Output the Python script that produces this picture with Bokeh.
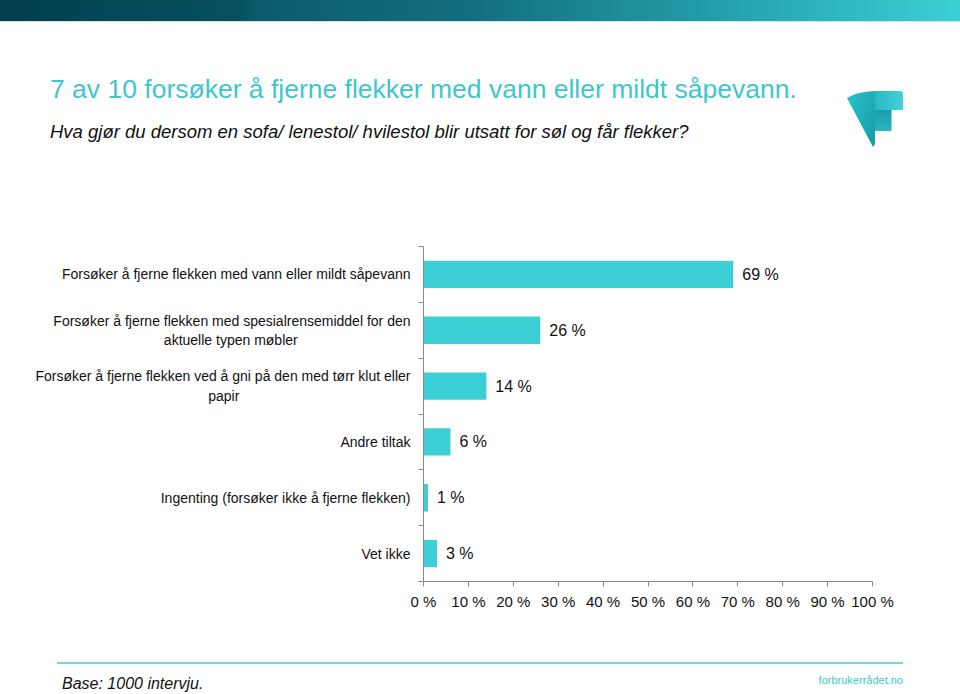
from bokeh.plotting import figure
from bokeh.models import Range1d, LinearAxis, FixedTicker, ColumnDataSource, Div
from bokeh.layouts import column
from bokeh.core.properties import value
from bokeh.embed import file_html
from bokeh.resources import INLINE

# ---------------- data ----------------
categories = [
    "Forsøker å fjerne flekken med vann eller mildt såpevann",
    "Forsøker å fjerne flekken med spesialrensemiddel for den\naktuelle typen møbler",
    "Forsøker å fjerne flekken ved å gni på den med tørr klut eller\npapir",
    "Andre tiltak",
    "Ingenting (forsøker ikke å fjerne flekken)",
    "Vet ikke",
]
values = [69, 26, 14, 6, 1, 3]
x_ticks = [0, 10, 20, 30, 40, 50, 60, 70, 80, 90, 100]
x_tick_labels = ["0 %", "10 %", "20 %", "30 %", "40 %", "50 %",
                 "60 %", "70 %", "80 %", "90 %", "100 %"]
title_text = "7 av 10 forsøker å fjerne flekker med vann eller mildt såpevann."
subtitle_text = "Hva gjør du dersom en sofa/ lenestol/ hvilestol blir utsatt for søl og får flekker?"
base_text = "Base: 1000 intervju."
source_text = "forbrukerrådet.no"

# ---------------- style ----------------
FONT = "Liberation Sans"
BAR = "#3ccfd6"
TEAL_TEXT = "#3ec6ce"
AXIS = "#8a8a8a"
TXT = "#111111"
W = 960
TOP_H = 240
FIG_H = 420
FOOT_H = 34
# no-break-space padding that visually centres the second line of a wrapped label
SECOND_LINE_PAD = {1: 29, 2: 44}

n = len(categories)
ypos = [n - i - 0.5 for i in range(n)]
labels = [f"{v} %" for v in values]


def axis_label(i, cat):
    parts = cat.split("\n")
    if len(parts) > 1:
        parts[1] = parts[1] + "\u00a0" * SECOND_LINE_PAD.get(i, 0)
    return "\n".join(parts)


# ---------------- header ----------------
logo_svg = (
    '<svg width="70" height="70" viewBox="840 85 70 70" '
    'style="position:absolute;left:840px;top:85px" xmlns="http://www.w3.org/2000/svg">'
    '<defs><linearGradient id="gw" x1="0" y1="0" x2="1" y2="1">'
    '<stop offset="0" stop-color="#2cc2cb"/><stop offset="1" stop-color="#139aa7"/></linearGradient>'
    '<linearGradient id="gt" x1="0" y1="0" x2="1" y2="0">'
    '<stop offset="0" stop-color="#2ab9c3"/><stop offset="1" stop-color="#45d2d9"/></linearGradient>'
    '<linearGradient id="gs" x1="0" y1="0" x2="0" y2="1">'
    '<stop offset="0" stop-color="#1a9eab"/><stop offset="1" stop-color="#2bb6c0"/></linearGradient></defs>'
    '<path d="M847 98 Q856 92 875 91 L875 144 L873 147 Z" fill="url(#gw)"/>'
    '<path d="M875 91 L900 91 Q903 91 903 94 L903 110 L875 110 Z" fill="url(#gt)"/>'
    '<path d="M875 110 L891.5 110 L891.5 131 L875 131 Z" fill="url(#gs)"/>'
    '</svg>'
)
header_html = (
    f'<div style="position:relative;width:{W}px;height:{TOP_H}px;overflow:hidden;'
    f'font-family:\'{FONT}\';">'
    '<div style="position:absolute;left:0;top:0;width:100%;height:21px;'
    'background:linear-gradient(to right,#023f4e 0px,#06505f 240px,#0b5a6b 255px,'
    '#137080 480px,#22a0aa 720px,#3ccfd6 960px);"></div>'
    '<div style="position:absolute;left:0;top:21px;width:100%;height:1px;background:#d8e4e4;"></div>'
    f'<div style="position:absolute;left:50px;top:75.6px;font-size:26.5px;line-height:26.5px;'
    f'color:{TEAL_TEXT};white-space:nowrap;">{title_text}</div>'
    f'<div style="position:absolute;left:50px;top:123.3px;font-size:18.5px;line-height:18.5px;'
    f'font-style:italic;color:{TXT};white-space:nowrap;">{subtitle_text}</div>'
    f'{logo_svg}</div>'
)
header = Div(text=header_html, width=W, height=TOP_H, margin=(0, 0, 0, 0))

# ---------------- chart ----------------
p = figure(width=W, height=FIG_H, output_backend="svg", toolbar_location=None,
           x_range=Range1d(0, 100), y_range=Range1d(0, n),
           x_axis_location=None, y_axis_location=None,
           min_border_left=423, min_border_right=W - 872,
           min_border_top=246 - TOP_H, min_border_bottom=FIG_H - (581 - TOP_H),
           margin=(0, 0, 0, 0))
p.outline_line_color = None
p.xgrid.visible = False
p.ygrid.visible = False

xa = LinearAxis(ticker=FixedTicker(ticks=x_ticks),
                major_label_overrides={t: l for t, l in zip(x_ticks, x_tick_labels)},
                axis_line_color=AXIS, major_tick_line_color=AXIS,
                major_tick_in=0, major_tick_out=5, minor_tick_line_color=None,
                major_label_text_font=FONT, major_label_text_font_size="15px",
                major_label_text_color=TXT, major_label_standoff=6)
p.add_layout(xa, "below")

ya = LinearAxis(ticker=FixedTicker(ticks=ypos, minor_ticks=list(range(n + 1))),
                major_label_overrides={y: axis_label(i, c)
                                       for i, (y, c) in enumerate(zip(ypos, categories))},
                axis_line_color=AXIS, major_tick_line_color=None,
                major_tick_in=0, major_tick_out=0,
                minor_tick_line_color=AXIS, minor_tick_in=0, minor_tick_out=5,
                major_label_standoff=8, major_label_orientation="horizontal",
                major_label_text_font=FONT, major_label_text_font_size="14px",
                major_label_text_color=TXT)
p.add_layout(ya, "left")

src = ColumnDataSource(dict(y=ypos, v=values, lab=labels))
p.hbar(y="y", left=0, right="v", height=0.49, source=src,
       fill_color=BAR, line_color=None)
p.text(x="v", y="y", text="lab", source=src, x_offset=9,
       text_align="left", text_baseline="middle",
       text_font=value(FONT), text_font_size="16px", text_color=TXT)

# ---------------- footer ----------------
footer_html = (
    f'<div style="position:relative;width:{W}px;height:{FOOT_H}px;overflow:hidden;'
    f'font-family:\'{FONT}\';">'
    '<div style="position:absolute;left:57px;top:2px;width:846px;height:2px;background:#7ad6da;"></div>'
    f'<div style="position:absolute;left:62px;top:15.5px;font-size:16px;line-height:16px;'
    f'font-style:italic;color:{TXT};white-space:nowrap;">{base_text}</div>'
    f'<div style="position:absolute;right:{W - 903}px;top:15px;font-size:11px;line-height:11px;'
    f'color:{TEAL_TEXT};white-space:nowrap;">{source_text}</div>'
    '</div>'
)
footer = Div(text=footer_html, width=W, height=FOOT_H, margin=(0, 0, 0, 0))

layout = column(header, p, footer, spacing=0, margin=(0, 0, 0, 0))
open("out.html", "w").write(file_html(layout, INLINE))
